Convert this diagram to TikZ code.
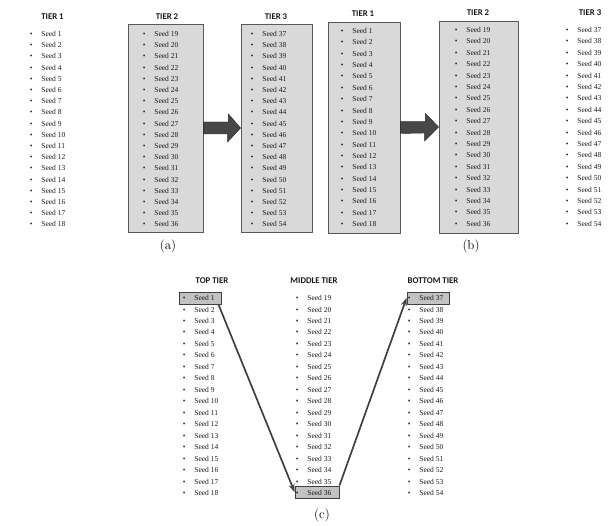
\documentclass[tikz,border=0pt]{standalone}
\usepackage{fontspec}
\newfontfamily\seedfont{Liberation Serif}
\newfontfamily\tierfont{Carlito}
\usepackage{tikz}
\usetikzlibrary{arrows.meta, calc}
\tikzset{
  seed/.style={anchor=west,inner sep=0pt,font=\seedfont\fontsize{7.5}{8}\selectfont,text=black!90},
  tierlbl/.style={inner sep=0pt,font=\tierfont\bfseries\fontsize{8.8}{10}\selectfont,text=black!90},
  tierbox/.style={rectangle,draw=black!65,fill=black!15,line width=0.8pt,inner sep=0pt},
  hlbox/.style={rectangle,draw=black!75,fill=black!24,line width=0.9pt,inner sep=0pt,minimum height=12pt},
  blkarr/.style={fill=black!72,draw=black!85,line width=0.4pt},
  arr/.style={-{Stealth[length=8pt,width=6pt]},line width=1.7pt,draw=black!75},
  caption/.style={inner sep=0pt,font=\fontsize{13}{15}\selectfont}
}
% one column of 18 seeds: name, bullet x, first row y, row step, first seed
\newcommand{\seedcol}[5]{%
  \foreach \k in {0,...,17}{
    \pgfmathtruncatemacro{\s}{#5+\k}
    \node[seed] (#1-\s) at (#2,{#3+\k*#4}) {\makebox[11.5pt][l]{\textbullet}Seed \s};
  }}

\begin{document}
\begin{tikzpicture}[x=1pt,y=-1pt]
  \useasboundingbox (0,0) rectangle (610,526);

  % (a)
  \node[tierbox,minimum width=75pt,minimum height=208pt] (a2) at (165.5,128) {};
  \node[tierbox,minimum width=71pt,minimum height=208pt] (a3) at (276.5,128) {};
  \node[tierlbl] (a-t1) at (52.5,17) {TIER 1};
  \node[tierlbl] (a-t2) at (167,17)  {TIER 2};
  \node[tierlbl] (a-t3) at (276,17)  {TIER 3};
  \seedcol{a1}{29.7}{34}{11.2}{1}
  \seedcol{a2}{142.7}{34}{11.2}{19}
  \seedcol{a3}{250.7}{34}{11.2}{37}
  \fill[blkarr] ($(a2.east)+(0,-6)$) -- ++(25,0) -- ++(0,-8) -- (a3.west)
    -- ++(-13,14) -- ++(0,-8) -- ($(a2.east)+(0,6)$) -- cycle;
  \node[caption] (cap-a) at (168,246) {(a)};

  % (b)
  \node[tierbox,minimum width=72pt,minimum height=211pt] (b1) at (364,127.5) {};
  \node[tierbox,minimum width=79pt,minimum height=212pt] (b2) at (478.5,127) {};
  \node[tierlbl] (b-t1) at (363,14) {TIER 1};
  \node[tierlbl] (b-t2) at (478,13) {TIER 2};
  \node[tierlbl] (b-t3) at (590,13) {TIER 3};
  \seedcol{b1}{340.7}{31}{11.35}{1}
  \seedcol{b2}{454.7}{30}{11.4}{19}
  \seedcol{b3}{565.7}{30}{11.4}{37}
  \fill[blkarr] ($(b1.east)+(0,-6)$) -- ++(25,0) -- ++(0,-8) -- (b2.west)
    -- ++(-14,14) -- ++(0,-8) -- ($(b1.east)+(0,6)$) -- cycle;
  \node[caption] (cap-b) at (471,246) {(b)};

  % (c)
  \node[tierlbl] (c-t1) at (212,281) {TOP TIER};
  \node[tierlbl] (c-t2) at (314,281) {MIDDLE TIER};
  \node[tierlbl] (c-t3) at (433,281) {BOTTOM TIER};
  \node[hlbox,minimum width=42pt] (h1)  at (200,298) {};
  \node[hlbox,minimum width=44pt] (h36) at (317,492) {};
  \node[hlbox,minimum width=42pt] (h37) at (428,298) {};
  \seedcol{c1}{182.7}{298}{11.47}{1}
  \seedcol{c2}{295.7}{298}{11.47}{19}
  \seedcol{c3}{407.7}{298}{11.47}{37}
  \draw[arr] ([xshift=-3pt]h1.south east) -- (h36.west);
  \draw[arr] (h36.north east) -- (h37.west);
  \node[caption] (cap-c) at (322,515) {(c)};
\end{tikzpicture}
\end{document}
